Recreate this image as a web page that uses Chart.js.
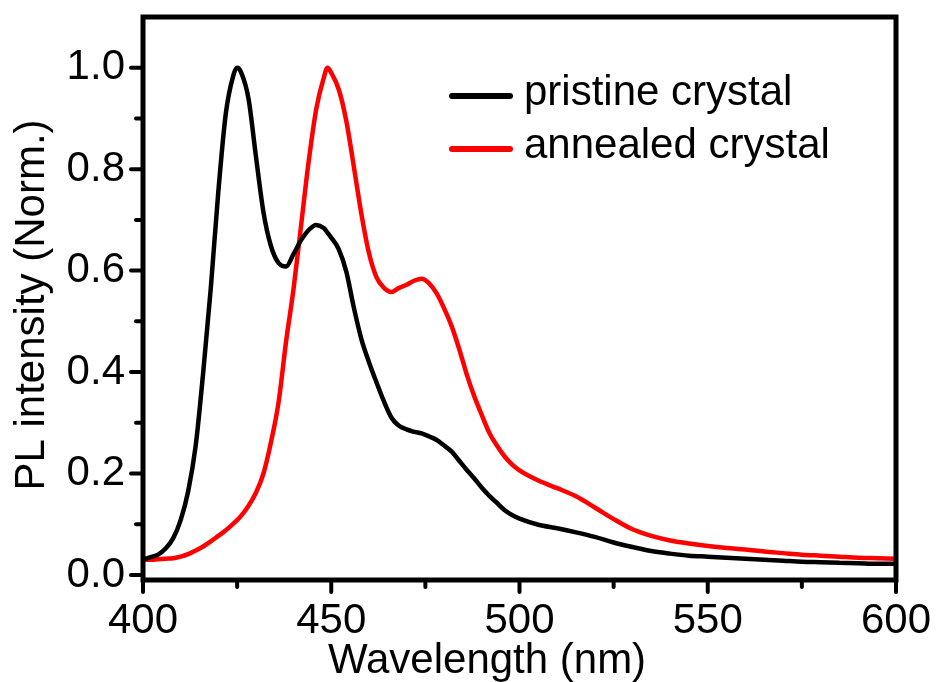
<!DOCTYPE html>
<html>
<head>
<meta charset="utf-8">
<title>PL spectra</title>
<script src="https://cdn.jsdelivr.net/npm/chart.js@4"></script>
<style>
  html, body { margin: 0; padding: 0; background: #fff; }
  canvas { display: block; }
</style>
</head>
<body>
<canvas id="pl-chart" width="936" height="682"></canvas>
<script>
// Emission wavelength grid (nm) shared by both spectra
var wavelengths = [400, 402, 404, 406, 408, 410, 412, 414, 416, 418, 420, 422, 424, 425, 426, 428, 430, 432, 434, 436, 438, 440, 442, 444, 446, 448, 449, 450, 452, 454, 456, 458, 460, 462, 464, 466, 468, 470, 472, 474, 476, 478, 480, 482, 484, 486, 488, 490, 492, 494, 496, 498, 500, 505, 510, 515, 520, 525, 530, 535, 540, 545, 550, 555, 560, 565, 570, 575, 580, 585, 590, 595, 600];

// Normalised PL intensity
var pristine = [0.030, 0.035, 0.040, 0.052, 0.072, 0.108, 0.165, 0.255, 0.400, 0.565, 0.755, 0.910, 0.985, 1.000, 0.992, 0.940, 0.825, 0.715, 0.648, 0.615, 0.608, 0.633, 0.660, 0.680, 0.690, 0.684, 0.675, 0.665, 0.642, 0.598, 0.527, 0.465, 0.420, 0.380, 0.342, 0.310, 0.294, 0.287, 0.282, 0.279, 0.273, 0.266, 0.255, 0.243, 0.225, 0.207, 0.190, 0.172, 0.156, 0.142, 0.128, 0.118, 0.111, 0.099, 0.092, 0.084, 0.075, 0.064, 0.055, 0.047, 0.042, 0.038, 0.036, 0.034, 0.032, 0.030, 0.028, 0.026, 0.025, 0.024, 0.023, 0.022, 0.022];
var annealed = [0.030, 0.030, 0.031, 0.032, 0.033, 0.036, 0.041, 0.048, 0.056, 0.066, 0.077, 0.088, 0.101, 0.108, 0.116, 0.136, 0.162, 0.200, 0.262, 0.340, 0.460, 0.565, 0.690, 0.815, 0.918, 0.980, 1.000, 0.990, 0.957, 0.895, 0.805, 0.712, 0.635, 0.587, 0.566, 0.558, 0.566, 0.572, 0.580, 0.584, 0.575, 0.555, 0.525, 0.490, 0.445, 0.395, 0.352, 0.315, 0.280, 0.255, 0.234, 0.218, 0.206, 0.186, 0.171, 0.155, 0.133, 0.110, 0.090, 0.077, 0.068, 0.062, 0.057, 0.053, 0.050, 0.046, 0.043, 0.040, 0.038, 0.036, 0.034, 0.033, 0.032];

var seriesLabels = ['pristine crystal', 'annealed crystal'];
var seriesColors = ['#000000', '#ff0000'];

var xTicks = [400, 450, 500, 550, 600];
var xMinorTicks = [425, 475, 525, 575];
var yTicks = [0.0, 0.2, 0.4, 0.6, 0.8, 1.0];
var yMinorTicks = [0.1, 0.3, 0.5, 0.7, 0.9];

var FONT = '"Liberation Sans", Arial, sans-serif';

function toPoints(values) {
    return wavelengths.map(function (w, i) { return { x: w, y: values[i] }; });
}

// Frame, outward ticks, axis titles and the legend box
var framePlugin = {
    id: 'frame',
    afterDatasetsDraw: function (chart) {
        var ctx = chart.ctx;
        var a = chart.chartArea;
        var xs = chart.scales.x, ys = chart.scales.y;
        ctx.save();
        ctx.strokeStyle = '#000';
        ctx.lineCap = 'round';

        // ticks
        ctx.lineWidth = 4;
        xTicks.forEach(function (v) {
            var px = xs.getPixelForValue(v);
            ctx.beginPath(); ctx.moveTo(px, a.bottom); ctx.lineTo(px, a.bottom + 12); ctx.stroke();
        });
        xMinorTicks.forEach(function (v) {
            var px = xs.getPixelForValue(v);
            ctx.beginPath(); ctx.moveTo(px, a.bottom); ctx.lineTo(px, a.bottom + 7); ctx.stroke();
        });
        yTicks.forEach(function (v) {
            var py = ys.getPixelForValue(v);
            ctx.beginPath(); ctx.moveTo(a.left, py); ctx.lineTo(a.left - 12, py); ctx.stroke();
        });
        yMinorTicks.forEach(function (v) {
            var py = ys.getPixelForValue(v);
            ctx.beginPath(); ctx.moveTo(a.left, py); ctx.lineTo(a.left - 7, py); ctx.stroke();
        });

        // box
        ctx.lineWidth = 5;
        ctx.lineCap = 'square';
        ctx.strokeRect(a.left, a.top, a.right - a.left, a.bottom - a.top);

        // axis titles
        ctx.fillStyle = '#000';
        ctx.font = '42px ' + FONT;
        ctx.textAlign = 'center';
        ctx.textBaseline = 'alphabetic';
        ctx.fillText('Wavelength (nm)', 487, 673);
        ctx.save();
        ctx.translate(44, 305);
        ctx.rotate(-Math.PI / 2);
        ctx.fillText('PL intensity (Norm.)', 0, 0);
        ctx.restore();

        // legend
        ctx.textAlign = 'left';
        ctx.lineCap = 'round';
        ctx.lineWidth = 6;
        chart.data.datasets.forEach(function (ds, i) {
            var ly = 96 + i * 53;
            ctx.strokeStyle = ds.borderColor;
            ctx.beginPath(); ctx.moveTo(452, ly); ctx.lineTo(510, ly); ctx.stroke();
            ctx.fillText(ds.label, 524, ly + 9);
        });
        ctx.restore();
    }
};

var ctx = document.getElementById('pl-chart').getContext('2d');
var plChart = new Chart(ctx, {
    type: 'line',
    data: {
        datasets: [{
            label: seriesLabels[0],
            data: toPoints(pristine),
            borderColor: seriesColors[0],
            borderWidth: 4.5,
            pointRadius: 0,
            cubicInterpolationMode: 'monotone',
            fill: false
        }, {
            label: seriesLabels[1],
            data: toPoints(annealed),
            borderColor: seriesColors[1],
            borderWidth: 4.5,
            pointRadius: 0,
            cubicInterpolationMode: 'monotone',
            fill: false
        }]
    },
    options: {
        responsive: false,
        animation: false,
        layout: { padding: { top: 17, right: 40, left: 0, bottom: 0 } },
        plugins: {
            legend: { display: false },
            tooltip: { enabled: false }
        },
        scales: {
            x: {
                type: 'linear',
                min: 400,
                max: 600,
                grid: { display: false, drawTicks: false },
                border: { display: false },
                afterFit: function (s) {
                    s.height = 102;
                    s.paddingLeft = 0;
                    s.paddingRight = 0;
                },
                ticks: {
                    stepSize: 50,
                    padding: 16,
                    maxRotation: 0,
                    autoSkip: false,
                    color: '#000',
                    font: { family: FONT, size: 42 }
                }
            },
            y: {
                min: -0.01,
                max: 1.1,
                grid: { display: false, drawTicks: false },
                border: { display: false },
                afterFit: function (s) {
                    s.width = 143;
                    s.paddingTop = 0;
                    s.paddingBottom = 0;
                },
                ticks: {
                    stepSize: 0.2,
                    includeBounds: false,
                    padding: 18,
                    color: '#000',
                    font: { family: FONT, size: 42 },
                    callback: function (v) { return v.toFixed(1); }
                }
            }
        }
    },
    plugins: [framePlugin]
});
</script>
</body>
</html>
